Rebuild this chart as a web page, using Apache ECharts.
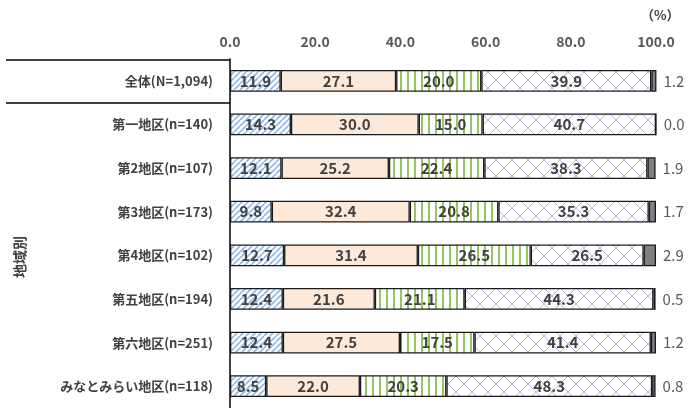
<!DOCTYPE html>
<html><head><meta charset="utf-8">
<script src="https://cdn.jsdelivr.net/npm/echarts@6/dist/echarts.min.js"></script>
<style>html,body{margin:0;padding:0;background:#fff}#c{width:693px;height:408px}</style>
</head><body><div id="c"></div>
<script>
const categories = ['全体(N=1,094)','第一地区(n=140)','第2地区(n=107)','第3地区(n=173)','第4地区(n=102)','第五地区(n=194)','第六地区(n=251)','みなとみらい地区(n=118)'];
const s1 = [11.9, 14.3, 12.1, 9.8, 12.7, 12.4, 12.4, 8.5];
const s2 = [27.1, 30.0, 25.2, 32.4, 31.4, 21.6, 27.5, 22.0];
const s3 = [20.0, 15.0, 22.4, 20.8, 26.5, 21.1, 17.5, 20.3];
const s4 = [39.9, 40.7, 38.3, 35.3, 26.5, 44.3, 41.4, 48.3];
const s5 = [1.2, 0.0, 1.9, 1.7, 2.9, 0.5, 1.2, 0.8];
const tickMin = 0, tickMax = 100, tickStep = 20;

function pat(w, h, draw) {
  const c = document.createElement('canvas'); c.width = w; c.height = h;
  const g = c.getContext('2d'); g.fillStyle = '#fff'; g.fillRect(0, 0, w, h); draw(g);
  return { image: c, repeat: 'repeat' };
}
const blue = pat(6, 6, g => {
  g.strokeStyle = '#8fb8e3'; g.lineWidth = 1.6;
  for (let k = -6; k <= 12; k += 6) { g.beginPath(); g.moveTo(k, 6); g.lineTo(k + 6, 0); g.stroke(); }
});
const green = pat(7, 4, g => { g.fillStyle = '#93c560'; g.fillRect(1, 0, 2, 4); });
const lav = pat(16, 16, g => {
  g.strokeStyle = '#c0b4de'; g.lineWidth = 1;
  g.beginPath(); g.moveTo(0, 0); g.lineTo(16, 16); g.stroke();
  g.beginPath(); g.moveTo(16, 0); g.lineTo(0, 16); g.stroke();
});

const lblInside = { show: true, position: 'inside', color: '#404040', fontWeight: 'bold', fontSize: 15, fontFamily: 'Noto Sans CJK JP', formatter: p => p.value.toFixed(1) };
const border = { borderColor: '#1a1a1a', borderWidth: 1.3 };
function ser(name, data, color, label) {
  return { name, type: 'bar', stack: 't', data, barCategoryGap: '50%', itemStyle: Object.assign({ color }, border), label, emphasis: { disabled: true } };
}
const chart = echarts.init(document.getElementById('c'), null, { renderer: 'canvas' });
chart.setOption({
  animation: false,
  grid: { left: 230, right: 37, top: 59, height: 353, containLabel: false },
  xAxis: {
    type: 'value', position: 'top', min: tickMin, max: tickMax, interval: tickStep,
    axisLine: { show: false }, axisTick: { show: false }, splitLine: { show: false },
    axisLabel: { formatter: v => v.toFixed(1), color: '#595959', fontSize: 14, fontWeight: 'bold', fontFamily: 'Noto Sans CJK JP', margin: 10 }
  },
  yAxis: {
    type: 'category', inverse: true, data: categories,
    axisLine: { show: true, lineStyle: { color: '#000', width: 1.5 } }, axisTick: { show: false },
    axisLabel: { color: '#404040', fontWeight: 'bold', fontSize: 13, fontFamily: 'Noto Sans CJK JP', margin: 17 }
  },
  series: [
    ser('s1', s1, blue, lblInside),
    ser('s2', s2, '#fde9d9', lblInside),
    ser('s3', s3, green, lblInside),
    ser('s4', s4, lav, lblInside),
    ser('s5', s5, '#808080', { show: true, position: 'right', distance: 7, color: '#595959', fontSize: 15, fontFamily: 'Noto Sans CJK JP', formatter: p => p.value.toFixed(1) })
  ],
  graphic: [
    { type: 'text', left: 641, top: 9, style: { text: '（%）', font: 'bold 13px "Noto Sans CJK JP"', fill: '#404040' } },
    { type: 'line', shape: { x1: 6, y1: 60, x2: 230, y2: 60 }, style: { stroke: '#000', lineWidth: 1.5 } },
    { type: 'line', shape: { x1: 6, y1: 103, x2: 230, y2: 103 }, style: { stroke: '#000', lineWidth: 1.5 } },
    { type: 'text', x: 20, y: 257, rotation: Math.PI / 2, style: { text: '地域別', align: 'center', verticalAlign: 'middle', font: 'bold 14px "Noto Sans CJK JP"', fill: '#404040' } }
  ]
});
</script></body></html>
